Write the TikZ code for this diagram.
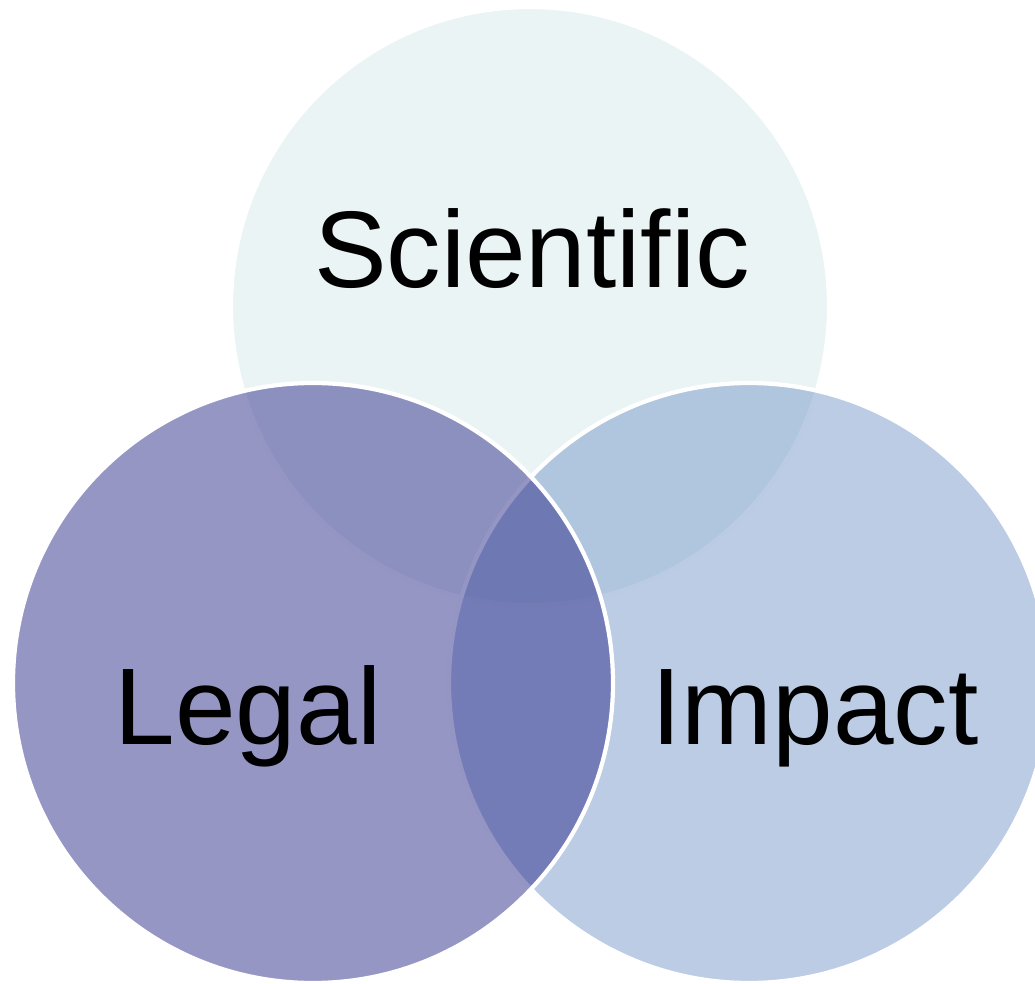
\documentclass[tikz,border=0pt]{standalone}
\usepackage{fontspec}
\setmainfont{Liberation Sans}

\definecolor{sciblue}{RGB}{234,244,245}
\definecolor{impactblue}{RGB}{119,153,201}
\definecolor{legalblue}{RGB}{45,45,137}

\tikzset{
    ring/.style={draw=white, line width=1.2pt},
    setlabel/.style={anchor=base, inner sep=0pt, font=\fontsize{31}{37}\selectfont}
}

\begin{document}
\begin{tikzpicture}
        \useasboundingbox (0,0) rectangle (10.35,9.83);

        % Top circle
        \draw[ring, fill=sciblue] (5.30,6.77) circle (2.99cm);

        % Lower circles
        \draw[ring, fill=impactblue, fill opacity=0.5] (7.49,3.00) circle (3cm);
        \draw[ring, fill=legalblue, fill opacity=0.5] (3.13,3.00) circle (3cm);

        % Labels
        \node[setlabel] (scientific) at (5.32,6.96) {Scientific};
        \node[setlabel] (legal) at (2.48,2.38) {Legal};
        \node[setlabel] (impact) at (8.15,2.38) {Impact};
    \end{tikzpicture}
\end{document}
